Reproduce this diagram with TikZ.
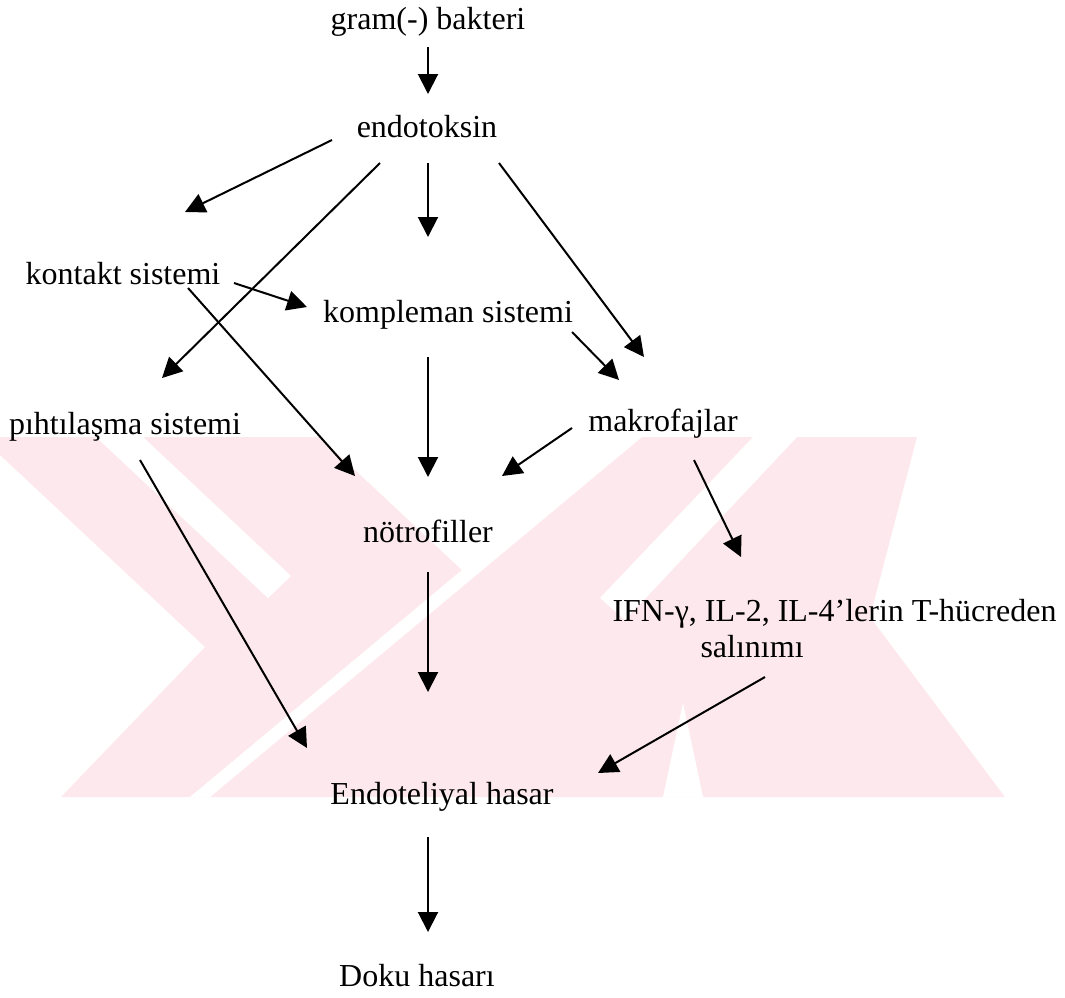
\documentclass[tikz,border=0pt]{standalone}
\usepackage{fontspec}
\setmainfont{Liberation Serif}
\usetikzlibrary{arrows.meta}
\definecolor{wmpink}{RGB}{253,233,237}

\begin{document}
\begin{tikzpicture}[
    x=0.375pt, y=-0.375pt,
    font=\fontsize{12}{13.5}\selectfont,
    lbl/.style={inner sep=0pt, anchor=base},
    arrow/.style={-{Triangle[length=7.5pt,width=7.5pt]}, line width=0.75pt}
  ]
    \useasboundingbox (0,0) rectangle (1065,997);
    % watermark
    \fill[wmpink] (0,455) -- (0,437) -- (917,437) -- (870,617) -- (1005,797)
      -- (61,797) -- (205,647) -- cycle;
    \fill[white] (96,437) -- (143,437) -- (291,576) -- (268,598) -- cycle;
    \fill[white] (320,437) -- (642,437) -- (210,797) -- (190,797) -- (462,570) -- cycle;
    \fill[white] (753,437) -- (797,437) -- (625,620) -- (600,598) -- cycle;
    \fill[white] (663,797) -- (683,703) -- (703,797) -- cycle;
    % labels
    \node[lbl] (gram) at (428,29) {gram(-) bakteri};
    \node[lbl] (endo) at (427,137) {endotoksin};
    \node[lbl] (kontakt) at (123,284) {kontakt sistemi};
    \node[lbl] (kompl) at (448,322) {kompleman sistemi};
    \node[lbl] (pihti) at (125,434) {pıhtılaşma sistemi};
    \node[lbl] (makro) at (663,431) {makrofajlar};
    \node[lbl] (notro) at (428,542) {nötrofiller};
    \node[lbl, anchor=base west, align=left] (ifn) at (612,657)
      {IFN-γ, IL-2, IL-4’lerin T-hücreden\\\hspace*{33pt}salınımı};
    \node[lbl] (endot) at (442,804) {Endoteliyal hasar};
    \node[lbl] (doku) at (417,986) {Doku hasarı};
    % arrows
    \draw[arrow] ([shift={(0,18)}]gram.base) -- ([shift={(1,-43)}]endo.base);
    \draw[arrow] ([shift={(-95,3)}]endo.base) -- ([shift={(62,-72)}]kontakt.base);
    \draw[arrow] ([shift={(-47,26)}]endo.base) -- ([shift={(37,-56)}]pihti.base);
    \draw[arrow] ([shift={(1,26)}]endo.base) -- ([shift={(-20,-85)}]kompl.base);
    \draw[arrow] ([shift={(72,26)}]endo.base) -- ([shift={(-19,-74)}]makro.base);
    \draw[arrow] ([shift={(111,-1)}]kontakt.base) -- ([shift={(-141,-15)}]kompl.base);
    \draw[arrow] ([shift={(65,4)}]kontakt.base) -- ([shift={(-73,-66)}]notro.base);
    \draw[arrow] ([shift={(-20,35)}]kompl.base) -- ([shift={(0,-65)}]notro.base);
    \draw[arrow] ([shift={(124,10)}]kompl.base) -- ([shift={(-44,-51)}]makro.base);
    \draw[arrow] ([shift={(-91,-3)}]makro.base) -- ([shift={(74,-66)}]notro.base);
    \draw[arrow] ([shift={(15,26)}]pihti.base) -- ([shift={(-135,-56)}]endot.base);
    \draw[arrow] ([shift={(31,29)}]makro.base) -- ([shift={(129,-100)}]ifn.base west);
    \draw[arrow] ([shift={(0,30)}]notro.base) -- ([shift={(-14,-112)}]endot.base);
    \draw[arrow] ([shift={(153,20)}]ifn.base west) -- ([shift={(156,-31)}]endot.base);
    \draw[arrow] ([shift={(-14,33)}]endot.base) -- ([shift={(11,-54)}]doku.base);
\end{tikzpicture}
\end{document}
